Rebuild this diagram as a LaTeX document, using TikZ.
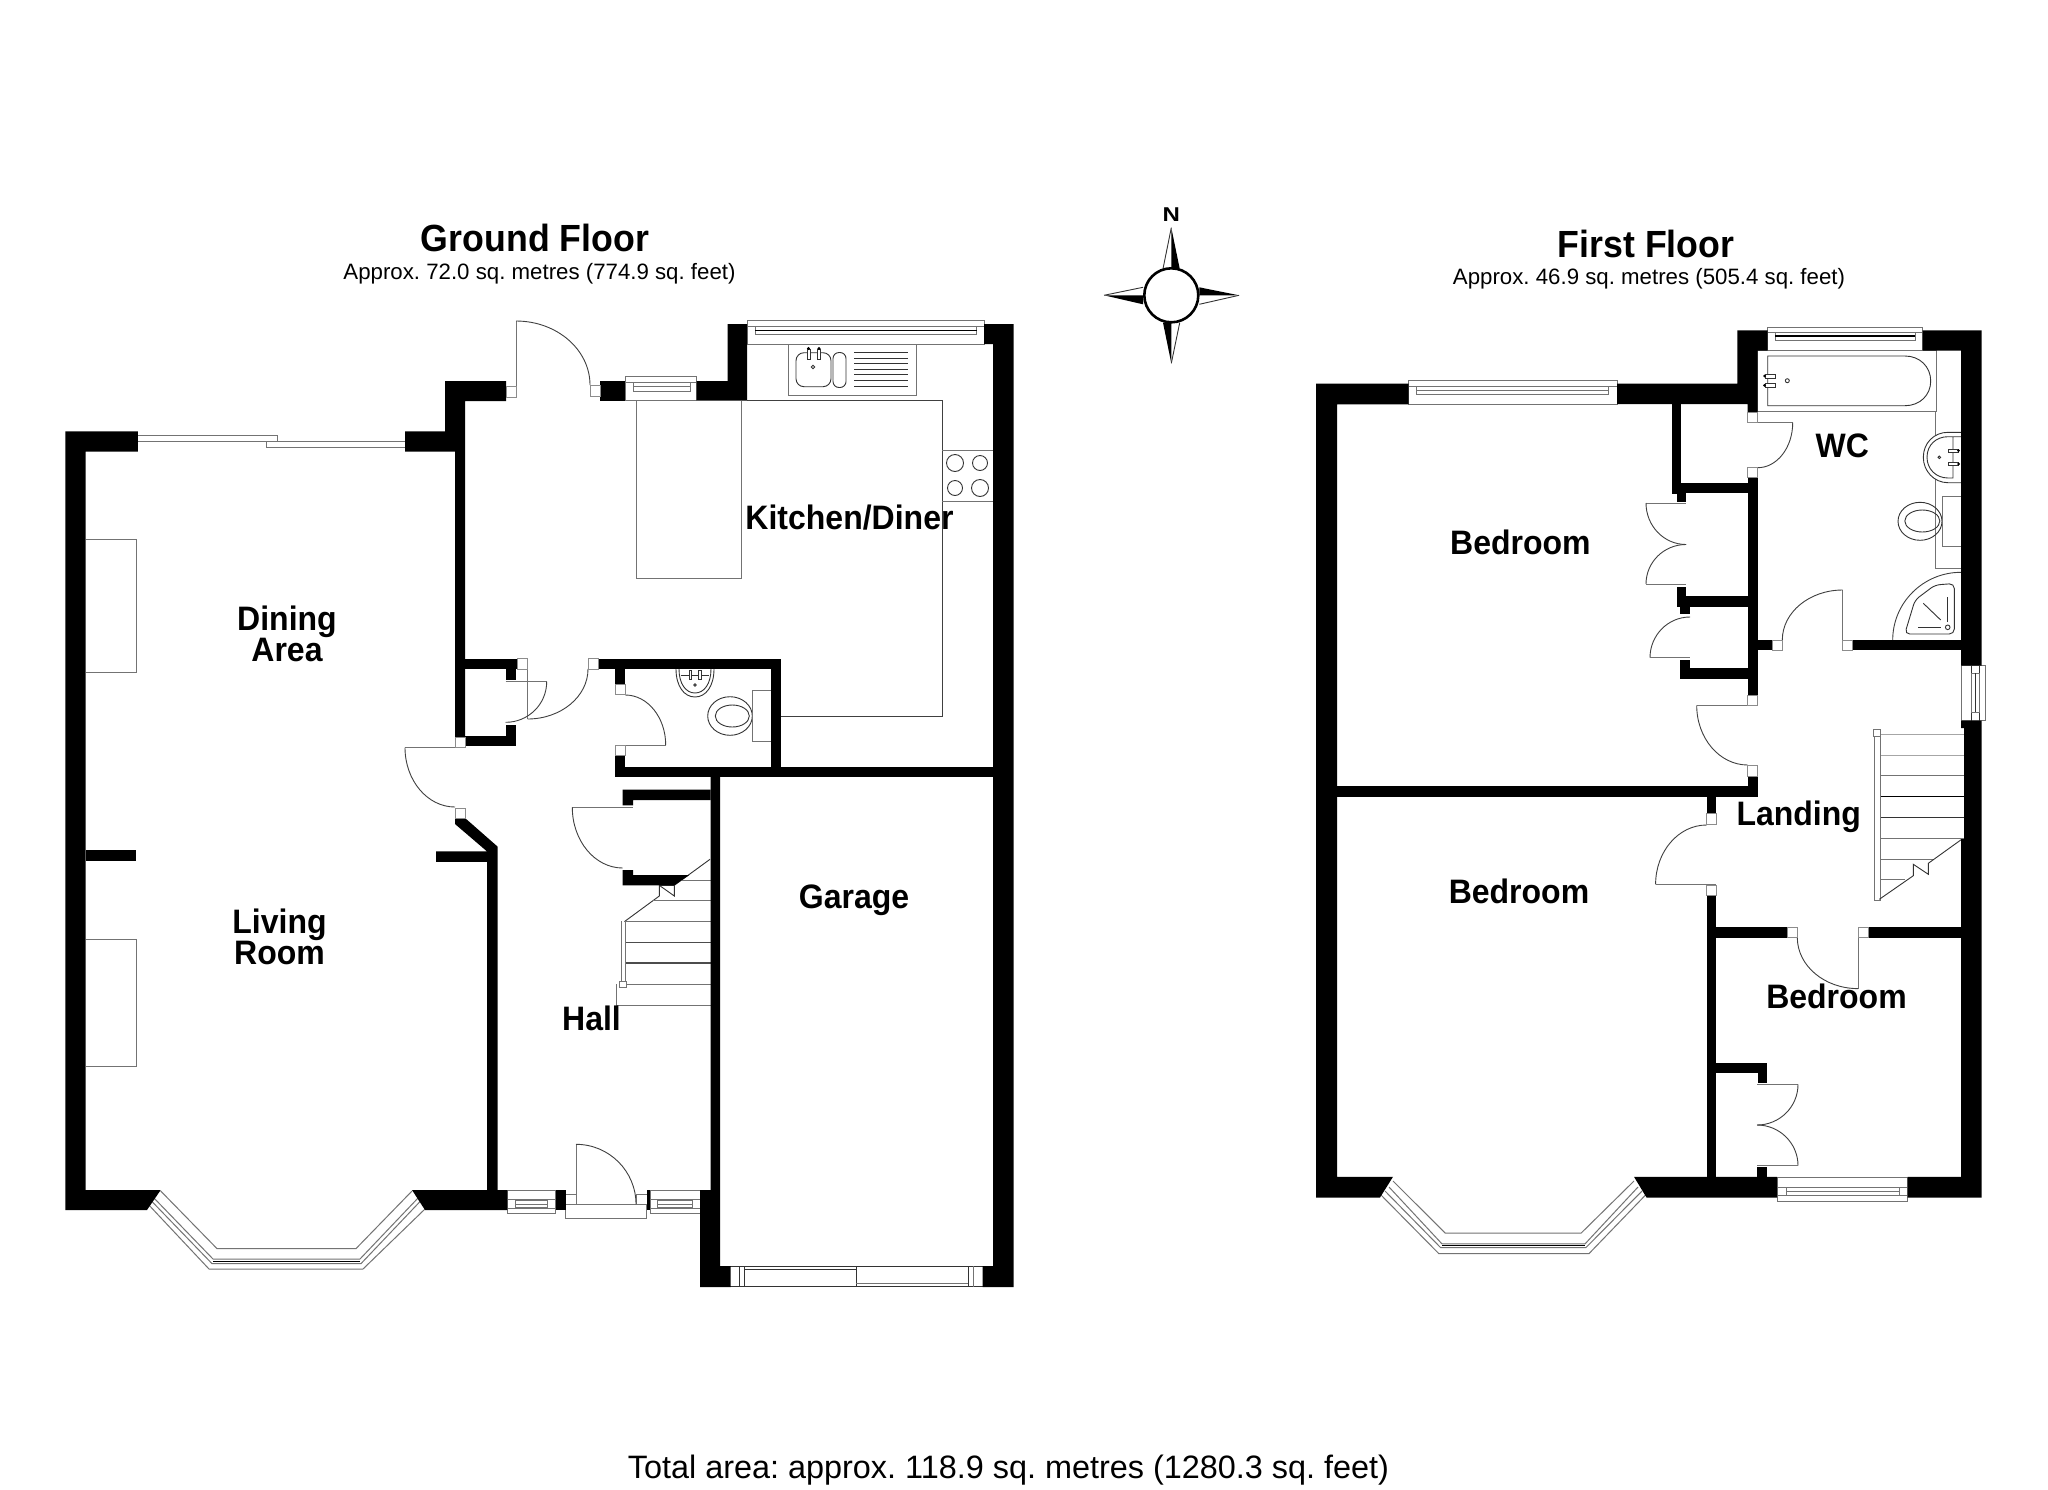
\documentclass[tikz,border=0pt]{standalone}
\usepackage{fontspec}
\usepackage{graphicx}
\setmainfont{Liberation Sans}
\usetikzlibrary{calc}
\newcommand\wl[4]{\fill[black] (#1,#2) rectangle (#3,#4);}
\newcommand\jb[4]{\draw[jambline] (#1,#2) rectangle (#3,#4);}
\newcommand\qarc[3]{\draw[doorline] (#1) .. controls ($(#1)!.5523!(#2)$) and ($(#3)!.5523!(#2)$) .. (#3);}
\newcommand\tall[1]{\scalebox{1}[1.06]{#1}}
\tikzset{
 doorline/.style={draw=black!75,line width=0.9pt},
 greyline/.style={draw=black!55,line width=1pt},
 fixline/.style={draw=black!80,line width=0.9pt},
 darkline/.style={draw=black,line width=1.1pt},
 jambline/.style={draw=black!45,fill=white,line width=0.9pt},
 roomlabel/.style={font=\fontsize{32}{31}\selectfont\bfseries,align=center,inner sep=0pt},
 titlelabel/.style={font=\fontsize{35.7}{36}\selectfont\bfseries,inner sep=0pt},
 sublabel/.style={font=\fontsize{22.25}{24}\selectfont,inner sep=0pt},
 totallabel/.style={font=\fontsize{32.4}{34}\selectfont,inner sep=0pt}
}
\begin{document}
\frenchspacing
\begin{tikzpicture}[x=1pt,y=-1pt,line join=miter]
\useasboundingbox (0,0) rectangle (2048,1489);
\fill[white] (0,0) rectangle (2048,1489);

%% ===== GROUND FLOOR: fixtures =====
% chimney breasts
\draw[greyline] (85.6,539) -- (136,539) -- (136,672.4) -- (85.6,672.4);
\draw[greyline] (85.6,939) -- (136,939) -- (136,1066) -- (85.6,1066);
% sliding door
\draw[greyline] (137.8,435.5) rectangle (277,441.8);
\draw[greyline] (266,441.8) rectangle (405,447);
% kitchen worktops
\draw[greyline] (636,400.7) -- (636,578) -- (741,578) -- (741,400.7);
\draw[doorline] (747,400.7) -- (942.3,400.7) -- (942.3,716) -- (781,716);
\draw[greyline] (788,344) -- (788,395) -- (916,395) -- (916,344);
\draw[fixline,rounded corners=8pt] (796,352.7) rectangle (831,386.7);
\draw[fixline,rounded corners=6pt] (833,352.5) rectangle (846,387.5);
\foreach \yy in {352.7,358.3,363.7,369.3,374.7,380.3,386}{\draw[fixline] (854,\yy) -- (908,\yy);}
\draw[fixline,fill=white] (807,349) rectangle (810,359);
\draw[fixline,fill=white] (817.5,349) rectangle (820.7,359);
\fill (808.5,348.5) circle (1.6);
\fill (819,348.5) circle (1.6);
\draw[fixline] (813,367) circle (1.7);
% hob
\draw[greyline] (942.3,450.7) -- (993,450.7);
\draw[greyline] (942.3,501) -- (993,501);
\draw[fixline] (955,463) circle (8.5);
\draw[fixline] (980,463) circle (7.5);
\draw[fixline] (955,488) circle (7.5);
\draw[fixline] (980,488) circle (8.5);
% top kitchen window
\draw[greyline,fill=white] (747,320.7) rectangle (984,344);
\draw[greyline] (747,326.3) -- (984,326.3);
\draw[greyline] (755,326.3) rectangle (976.7,334.5);
\draw[darkline] (755,330.5) -- (976.7,330.5);
% small kitchen window
\draw[greyline,fill=white] (625,376.7) rectangle (696.7,400.7);
\draw[greyline] (625,382) -- (696.7,382);
\draw[greyline] (633.3,382) rectangle (690,391);
\draw[greyline] (633.3,386.5) -- (690,386.5);
% cloakroom fixtures
\draw[fixline] (676,669) .. controls (676,686) and (684,697) .. (695,697) .. controls (706,697) and (714,686) .. (714,669);
\draw[fixline] (679,669) .. controls (679,684) and (686,693) .. (695,693) .. controls (704,693) and (711,684) .. (711,669);
\draw[fixline] (681,675) -- (709,675);
\draw[fixline,fill=white] (689,670) rectangle (691.7,679);
\draw[fixline,fill=white] (698.7,670) rectangle (701.3,679);
\draw[fixline] (695,685) circle (1.2);
\draw[fixline] (730,716) ellipse (22.3 and 19.3);
\draw[fixline] (732.3,716) ellipse (17 and 11);
\draw[greyline,fill=white] (752,690.7) rectangle (771,741.7);
% doors
\draw[greyline] (516,397) -- (516,321);
\qarc{516,321}{590,321}{590,385}
\draw[greyline] (527.5,669) -- (527.5,719);
\qarc{527.5,719}{588,719}{588,669}
\draw[greyline] (505.7,681.7) -- (546.7,681.7);
\qarc{546.7,681.7}{546.7,722.3}{505.7,722.3}
\qarc{625.3,695}{665.7,695}{665.7,745}
\draw[greyline] (625.3,745) -- (665.7,745);
\draw[greyline] (405,747.5) -- (455,747.5);
\qarc{405,747.5}{405,807}{455,807}
\draw[greyline] (572.3,807.3) -- (633,807.3);
\qarc{572.3,807.3}{572.3,868}{622.7,868}
% stairs
\draw[fixline] (710,859.3) -- (674.3,885.3) -- (659.3,885.3) -- (659.3,896) -- (624.3,921.7);
\draw[fixline] (659.3,885.3) -- (674.3,896) -- (674.3,885.3);
\draw[greyline] (680,880) -- (710.6,880);
\draw[greyline] (653.3,900.7) -- (710.6,900.7);
\draw[greyline] (624,921.4) -- (710.6,921.4);
\draw[darkline,draw=black!70] (625.7,942.5) -- (710.6,942.5);
\draw[darkline,draw=black!70] (625.7,963) -- (710.6,963);
\draw[greyline] (625.7,984) -- (710.6,984);
\draw[greyline] (621,921.4) -- (621,982);
\draw[greyline] (625.7,921.4) -- (625.7,982);
\draw[greyline,fill=white] (619.5,981.4) rectangle (626.5,987.5);
\draw[greyline] (616.6,984) -- (616.6,1005) -- (710.6,1005);
% front door and windows
\draw[greyline] (507.3,1190) rectangle (555.7,1213.3);
\draw[greyline] (507.3,1199.3) -- (555.7,1199.3);
\draw[greyline] (507.3,1208.3) -- (555.7,1208.3);
\draw[greyline] (515,1199.3) -- (515,1208.3);
\draw[greyline] (547.7,1199.3) -- (547.7,1208.3);
\draw[greyline] (515,1200.7) rectangle (547.7,1207.3);
\draw[greyline] (515,1204) -- (547.7,1204);
\draw[greyline] (650,1190) rectangle (700,1213.3);
\draw[greyline] (650,1199.3) -- (700,1199.3);
\draw[greyline] (650,1208.3) -- (700,1208.3);
\draw[greyline] (657.3,1199.3) -- (657.3,1208.3);
\draw[greyline] (692.7,1199.3) -- (692.7,1208.3);
\draw[greyline] (657.3,1200.7) rectangle (692.7,1207.3);
\draw[greyline] (657.3,1204) -- (692.7,1204);
\draw[greyline] (565.7,1204.3) rectangle (646.7,1218.3);
\draw[greyline] (565.7,1194.3) -- (576,1194.3);
\draw[greyline] (636.7,1194.3) -- (646.7,1194.3);
\draw[greyline] (636.7,1194.3) -- (636.7,1204.3);
\draw[greyline] (576,1204.3) -- (576,1144.3);
\qarc{576,1144.3}{636,1144.3}{636,1204.3}
% bay window
\draw[greyline] (160.7,1191) -- (217,1248.6) -- (356,1248.6) -- (412,1191);
\draw[greyline] (147,1203) -- (209,1269) -- (363,1269) -- (425,1209);
\draw[greyline] (153,1197) -- (213,1259) -- (360,1259) -- (419,1197);
\draw[greyline] (150.5,1200) -- (212,1263.6) -- (361,1263.6) -- (421.5,1200);
\draw[darkline] (213,1261.3) -- (360,1261.3);
% garage door
\draw[fixline] (730,1266) -- (983,1266);
\draw[fixline] (730,1286.5) -- (983,1286.5);
\draw[fixline] (739.3,1266) -- (739.3,1286.5);
\draw[fixline] (744.3,1266) -- (744.3,1286.5);
\draw[fixline] (744.3,1269.3) -- (856.3,1269.3);
\draw[fixline] (856.3,1266) -- (856.3,1286.5);
\draw[greyline] (856.3,1283.3) -- (968.3,1283.3);
\draw[fixline] (968.3,1266) -- (968.3,1286.5);
\draw[greyline] (973.7,1266) -- (973.7,1286.5);

%% ===== GROUND FLOOR: walls =====
\fill[black] (65.3,431.3) -- (137.8,431.3) -- (137.8,451.5) -- (85.6,451.5) -- (85.6,1190) -- (160.7,1190) -- (147,1210) -- (65.3,1210) -- cycle;
\fill[black] (445,381) -- (506,381) -- (506,401) -- (465,401) -- (465,737) -- (455,737) -- (455,451.5) -- (405,451.5) -- (405,431.3) -- (445,431.3) -- cycle;
\wl{85.6}{850}{136}{860.7}
\wl{600}{381}{625}{400.7}
\fill[black] (696.7,381) -- (727.6,381) -- (727.6,324) -- (747,324) -- (747,400.7) -- (696.7,400.7) -- cycle;
\fill[black] (984,324) -- (1013.5,324) -- (1013.5,1287) -- (982.7,1287) -- (982.7,1266) -- (993,1266) -- (993,344) -- (984,344) -- cycle;
\wl{615}{766.5}{1013}{777}
\fill[black] (710.6,777) -- (720,777) -- (720,1266) -- (730.5,1266) -- (730.5,1287) -- (700,1287) -- (700,1190) -- (710.6,1190) -- cycle;
% cloakroom
\wl{598}{658.7}{781}{669}
\wl{771}{658.7}{781}{767}
\wl{615}{669}{625.3}{684}
\wl{615}{755}{625.3}{767}
% cupboard under dining wall
\wl{465}{658.7}{517.7}{669}
\wl{505.7}{669}{516}{680}
\wl{505.7}{725}{516}{746}
\wl{465}{735.7}{516}{746}
% hall cupboard
\fill[black] (622.7,789.7) -- (710.6,789.7) -- (710.6,800) -- (633,800) -- (633,805.3) -- (622.7,805.3) -- cycle;
\fill[black] (622.7,870) -- (633,870) -- (633,875) -- (689.3,875) -- (674.3,885.3) -- (622.7,885.3) -- cycle;
% living / hall diagonal wall
\fill[black] (455,818) -- (465,818) -- (497.7,846.7) -- (497.7,1190) -- (507.3,1190) -- (507.3,1210) -- (425,1210) -- (412,1190) -- (487,1190) -- (487,861.8) -- (436,861.8) -- (436,851.4) -- (487,851.4) -- (455,824) -- cycle;
% front wall pieces
\wl{555.7}{1190}{565.7}{1210}
\wl{646.7}{1190}{650}{1210}
% jambs
\jb{590}{385}{600}{396}
\jb{506}{386}{516}{397}
\jb{588}{658.7}{598}{669}
\jb{517.7}{658.7}{527.7}{669}
\jb{615}{684}{625.3}{694}
\jb{615}{745}{625.3}{755}
\jb{455}{737}{465}{747.7}
\jb{455}{808}{465}{818}

%% ===== COMPASS =====
\fill[black] (1171.3,227.7) -- (1179.7,268.7) -- (1171.3,268.7) -- cycle;
\draw[fixline] (1171.3,227.7) -- (1163,268.7);
\fill[black] (1239,295.3) -- (1199.3,287.3) -- (1199.3,295.3) -- cycle;
\draw[fixline] (1239,295.3) -- (1199.3,304.3);
\fill[black] (1171.3,363.3) -- (1163,322.7) -- (1171.3,322.7) -- cycle;
\draw[fixline] (1171.3,363.3) -- (1179.7,322.7);
\fill[black] (1104,295.3) -- (1143,304.3) -- (1143,295.3) -- cycle;
\draw[fixline] (1104,295.3) -- (1143,287.3);
\draw[black,line width=2.6pt,fill=white] (1171.3,295.3) circle (27);
\node[inner sep=0pt,font=\fontsize{20}{21}\selectfont\bfseries] (north) at (1171.3,214.7) {\scalebox{1.2}[1]{N}};

%% ===== FIRST FLOOR: fixtures =====
% windows
\draw[greyline,fill=white] (1408.7,380.3) rectangle (1617,404.3);
\draw[greyline] (1408.7,386) -- (1617,386);
\draw[greyline] (1416,386) rectangle (1608.6,394.6);
\draw[greyline] (1416,390.3) -- (1608.6,390.3);
\draw[greyline,fill=white] (1767.7,327.3) rectangle (1922.7,350.7);
\draw[greyline] (1767.7,332.7) -- (1922.7,332.7);
\draw[greyline] (1775.3,332.7) rectangle (1915,340.7);
\draw[darkline] (1775.3,336) -- (1915,336);
\draw[greyline,fill=white] (1777,1177) rectangle (1907.7,1201);
\draw[greyline] (1777,1187.5) -- (1907.7,1187.5);
\draw[greyline] (1777,1195) -- (1907.7,1195);
\draw[greyline] (1786,1187.5) rectangle (1899,1195);
\draw[greyline] (1786,1191) -- (1899,1191);
\draw[greyline,fill=white] (1961,665.7) rectangle (1985,720.7);
\draw[fixline] (1971,665.7) -- (1971,720.7);
\draw[fixline] (1979.3,665.7) -- (1979.3,720.7);
\draw[greyline] (1971,673.3) rectangle (1979.3,712.3);
\draw[fixline] (1975,673.3) -- (1975,712.3);
% bathroom
\draw[greyline] (1757.7,350.7) rectangle (1936.7,411);
\draw[greyline] (1935.3,411) -- (1935.3,568.3) -- (1961,568.3);
\draw[fixline] (1767.7,356) -- (1905,356) .. controls (1920,356) and (1930.7,367) .. (1930.7,381) .. controls (1930.7,395) and (1920,405.7) .. (1905,405.7) -- (1767.7,405.7) -- cycle;
\draw[fixline,fill=white] (1765,374) rectangle (1775,378);
\draw[fixline,fill=white] (1765,383.3) rectangle (1775,387.3);
\fill (1764.5,376) circle (1.5);
\fill (1764.5,385.3) circle (1.5);
\draw[fixline] (1787.3,380.7) circle (2);
% basin
\draw[fixline,fill=white] (1961,432.3) -- (1948,432.3) .. controls (1934,432.3) and (1923.3,443) .. (1923.3,457.3) .. controls (1923.3,471) and (1934,482.7) .. (1948,482.7) -- (1961,482.7);
\draw[fixline] (1961,436.7) -- (1953,436.7) -- (1953,478) -- (1948,478) .. controls (1936,478) and (1927,469) .. (1927,457.3) .. controls (1927,445) and (1936,436.7) .. (1948,436.7) -- (1953,436.7);
\draw[fixline,fill=white] (1948,449) rectangle (1958,452.5);
\draw[fixline,fill=white] (1948,462.2) rectangle (1958,465.8);
\fill (1958.5,450.7) circle (1.5);
\fill (1958.5,464) circle (1.5);
\draw[fixline] (1939.3,457.3) circle (1.3);
% toilet
\draw[fixline] (1920,521.3) ellipse (22 and 19);
\draw[fixline] (1922.3,521) ellipse (17.5 and 11);
\draw[greyline,fill=white] (1961,496.7) -- (1942.7,496.7) -- (1942.7,546.7) -- (1961,546.7);
% shower
\qarc{1892.7,640}{1892.7,572.3}{1961,572.3}
\draw[fixline,rounded corners=5pt] (1954.3,583.5) -- (1935,585) -- (1915,600) -- (1904.7,634) -- (1954.3,634) -- cycle;
\draw[fixline] (1923.3,603.3) -- (1940.7,620);
\draw[fixline] (1918.3,627.3) -- (1940.7,627.3);
\draw[fixline] (1947.7,597.3) -- (1947.7,621.7);
\draw[fixline] (1947.7,627.3) circle (2.3);
% doors
\draw[greyline] (1757.7,422.7) -- (1792.7,422.7);
\qarc{1792.7,422.7}{1792.7,467.7}{1757.7,467.7}
\draw[greyline] (1842.7,640) -- (1842.7,590);
\qarc{1842.7,590}{1782.3,590}{1782.3,640}
\draw[greyline] (1646,503) -- (1686,503);
\qarc{1646,503}{1646,544.5}{1686,544.5}
\qarc{1686,544.5}{1646,544.5}{1646,584}
\draw[greyline] (1646,584) -- (1686,584);
\qarc{1690,617}{1650,617}{1650,657.7}
\draw[greyline] (1650,657.7) -- (1690,657.7);
\draw[greyline] (1696.7,705.3) -- (1747.7,705.3);
\qarc{1696.7,705.3}{1696.7,765}{1747.7,765}
\qarc{1706.6,825}{1655.6,825}{1655.6,884.3}
\draw[greyline] (1655.6,884.3) -- (1716,884.3);
\draw[greyline] (1858,937.5) -- (1858,988.6);
\qarc{1858,988.6}{1797.3,988.6}{1797.3,937.5}
\draw[greyline] (1757,1084.3) -- (1798,1084.3);
\qarc{1798,1084.3}{1798,1125}{1757,1125}
\qarc{1757,1125}{1798,1125}{1798,1165.7}
\draw[greyline] (1757,1165.7) -- (1798,1165.7);
% stairs
\draw[draw=black!35,line width=1pt] (1880,734) -- (1964,734);
\draw[draw=black!35,line width=1pt] (1880,755) -- (1964,755);
\draw[greyline] (1880,775.7) -- (1964,775.7);
\draw[darkline] (1880,796.7) -- (1964,796.7);
\draw[fixline] (1880,817.3) -- (1964,817.3);
\draw[greyline] (1880,838.7) -- (1964,838.7);
\draw[greyline] (1880,859.3) -- (1933,859.3);
\draw[greyline] (1880,879.7) -- (1905,879.7);
\draw[greyline] (1874.7,736) -- (1874.7,900) -- (1880,900) -- (1880,736);
\draw[greyline,fill=white] (1873.3,729.3) rectangle (1880.7,736.7);
\draw[fixline] (1961.7,839.3) -- (1928.3,863.3) -- (1928.3,874.3) -- (1913.3,864.3) -- (1913.3,875.7) -- (1879.3,899.3);
% bay window
\draw[greyline] (1393,1181) -- (1445.3,1233.2) -- (1581,1233.2) -- (1634,1181);
\draw[greyline] (1380,1194) -- (1438.8,1253.6) -- (1589,1253.6) -- (1646.5,1194);
\draw[greyline] (1389,1187) -- (1442,1243.9) -- (1585,1243.9) -- (1638,1187);
\draw[greyline] (1385,1191) -- (1440.5,1247.5) -- (1586,1247.5) -- (1642,1191);
\draw[darkline] (1442,1245.7) -- (1585,1245.7);

%% ===== FIRST FLOOR: walls =====
\fill[black] (1316,383.7) -- (1408.7,383.7) -- (1408.7,404.3) -- (1337,404.3) -- (1337,1176.8) -- (1393,1176.8) -- (1380,1197.5) -- (1316,1197.5) -- cycle;
\fill[black] (1617,383.5) -- (1737.3,383.5) -- (1737.3,330.3) -- (1767.7,330.3) -- (1767.7,350.7) -- (1757.7,350.7) -- (1757.7,412.7) -- (1747.7,412.7) -- (1747.7,404) -- (1617,404) -- cycle;
\fill[black] (1922.7,330.3) -- (1981.7,330.3) -- (1981.7,665.7) -- (1961,665.7) -- (1961,350.7) -- (1922.7,350.7) -- cycle;
\fill[black] (1961,720.7) -- (1981.7,720.7) -- (1981.7,1197.5) -- (1907.7,1197.5) -- (1907.7,1176.8) -- (1961,1176.8) -- (1961,839) -- (1964,839) -- (1964,728) -- (1961,728) -- cycle;
\fill[black] (1634,1176.8) -- (1777,1176.8) -- (1777,1197.5) -- (1646.5,1197.5) -- cycle;
% main spine and partitions
\wl{1747.7}{477.7}{1757.7}{695.6}
\wl{1747.7}{776.4}{1757.7}{796.8}
\wl{1337}{786}{1757.7}{796.8}
\wl{1672}{404}{1681}{493.5}
\wl{1672}{482.7}{1747.7}{493}
\wl{1676.5}{493}{1686}{502}
\wl{1676.5}{587}{1686}{606.7}
\wl{1676.5}{596}{1747.7}{606.7}
\wl{1680}{606.7}{1690}{614.3}
\wl{1680}{660}{1690}{678.7}
\wl{1680}{668}{1747.7}{678.7}
\wl{1757.7}{640}{1772.3}{650}
\wl{1852.7}{640}{1961}{650}
\wl{1706.6}{796.8}{1716.3}{813.6}
\wl{1706.6}{895}{1716.3}{1180}
\wl{1716}{927}{1787}{937.5}
\wl{1868}{927}{1961}{937.5}
\wl{1716}{1062.5}{1767.3}{1072.9}
\wl{1757.5}{1072.9}{1767.3}{1083}
\wl{1757}{1167}{1767.3}{1177}
% jambs
\jb{1747.7}{412.7}{1757.7}{422.7}
\jb{1747.7}{467.7}{1757.7}{477.7}
\jb{1772.3}{640}{1782.3}{650}
\jb{1842.7}{640}{1852.7}{650}
\jb{1747.7}{695.6}{1757.7}{705.3}
\jb{1747.7}{765}{1757.7}{776.4}
\jb{1706.6}{813.6}{1716.3}{824.3}
\jb{1706.6}{885}{1716.3}{895}
\jb{1787}{927}{1797.3}{937.5}
\jb{1858}{927}{1868}{937.5}

%% ===== TEXT =====
\node[titlelabel] (gftitle) at (535,237.7) {\tall{Ground Floor}};
\node[sublabel] (gfsub) at (539.5,273.6) {Approx. 72.0 sq. metres (774.9 sq. feet)};
\node[titlelabel] (fftitle) at (1646,244) {\tall{First Floor}};
\node[sublabel] (ffsub) at (1649,279) {Approx. 46.9 sq. metres (505.4 sq. feet)};
\node[roomlabel] (dining) at (287,634) {\tall{Dining}\\\tall{Area}};
\node[roomlabel] (kitchen) at (849.5,518) {\tall{Kitchen/Diner}};
\node[roomlabel] (living) at (279.5,937) {\tall{Living}\\\tall{Room}};
\node[roomlabel] (garage) at (854,900.6) {\tall{Garage}};
\node[roomlabel] (hall) at (591.5,1018.6) {\tall{Hall}};
\node[roomlabel] (bedone) at (1520.4,542.6) {\tall{Bedroom}};
\node[roomlabel] (wc) at (1842.3,446) {\tall{WC}};
\node[roomlabel] (landing) at (1798.7,816.4) {\tall{Landing}};
\node[roomlabel] (bedtwo) at (1519,891) {\tall{Bedroom}};
\node[roomlabel] (bedthree) at (1836.5,996.4) {\tall{Bedroom}};
\node[totallabel] (total) at (1008.5,1470) {Total area: approx. 118.9 sq. metres (1280.3 sq. feet)};
\end{tikzpicture}
\end{document}
